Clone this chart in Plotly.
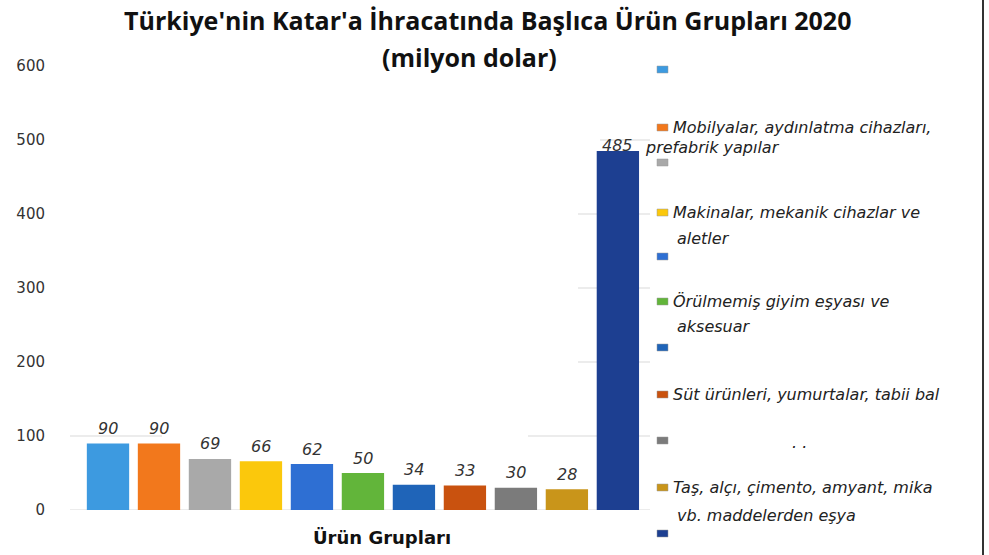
import plotly.graph_objects as go

# ---- data ----
categories = ["Ürün 1", "Ürün 2", "Ürün 3", "Ürün 4", "Ürün 5", "Ürün 6",
              "Ürün 7", "Ürün 8", "Ürün 9", "Ürün 10", "Ürün 11"]
values = [90, 90, 69, 66, 62, 50, 34, 33, 30, 28, 485]
colors = ["#3d9ae0", "#f2781c", "#a9a9a9", "#fbc80c", "#2e6fd3", "#62b53a",
          "#1f64b8", "#c9520f", "#7b7b7b", "#c9951a", "#1d3f91"]
legend_line1 = ["", "Mobilyalar, aydınlatma cihazları,", "", "Makinalar, mekanik cihazlar ve",
                "", "Örülmemiş giyim eşyası ve", "", "Süt ürünleri, yumurtalar, tabii bal",
                ". .", "Taş, alçı, çimento, amyant, mika", ""]
legend_line2 = ["", "prefabrik yapılar", "", "aletler", "", "aksesuar", "", "", "",
                "vb. maddelerden eşya", ""]
y_ticks = [0, 100, 200, 300, 400, 500, 600]
title_line1 = "Türkiye'nin Katar'a İhracatında Başlıca Ürün Grupları 2020"
title_line2 = "(milyon dolar)"
x_title = "Ürün Grupları"

# ---- layout geometry (pixels) ----
W, H = 989, 555
L, R, T, B = 70, 339, 66, 45
PW, PH = W - L - R, H - T - B


def px(x):
    return (x - L) / PW


def py(y):
    return (H - B - y) / PH


fig = go.Figure()
xs = list(range(len(values)))
for i, (c, v, col) in enumerate(zip(categories, values, colors)):
    fig.add_trace(go.Bar(x=[i], y=[v], name=c, marker=dict(color=col, line=dict(width=0)),
                         width=0.83, showlegend=False))

annotations = []
shapes = []
label_font = dict(family="DejaVu Sans", size=16, color="#333333", style="italic")
for i, v in zip(xs, values):
    annotations.append(dict(x=i, y=v, xref="x", yref="y", text=str(v), showarrow=False,
                            xanchor="center", yanchor="middle",
                            yshift=15 if v < 400 else 6, font=label_font))

# partial gridlines like the reference
grid_segments = {0: [(70, 650)], 100: [(70, 162), (528, 650)], 200: [(578, 650)],
                 300: [(578, 650)], 400: [(578, 650)], 500: [(600, 650)]}
for yv in y_ticks:
    for (a, b) in grid_segments.get(yv, []):
        shapes.append(dict(type="line", xref="paper", yref="y", x0=px(a), x1=px(b), y0=yv, y1=yv,
                           line=dict(color="#d9d9d9", width=1), layer="below"))

# custom legend
marker_y = [69, 127, 162, 212, 256, 301, 347, 394, 440, 487, 533]
line2_pos = {1: (643, 147), 3: (675, 238), 5: (675, 326), 9: (675, 515)}
leg_font = dict(family="DejaVu Sans", size=16, color="#222222", style="italic")
for i, col in enumerate(colors):
    my = marker_y[i]
    shapes.append(dict(type="rect", xref="paper", yref="paper", x0=px(657), x1=px(668),
                       y0=py(my + 4), y1=py(my - 3), fillcolor=col,
                       line=dict(color="#9a9a9a", width=0.5)))
    if legend_line1[i]:
        lx = 790 if legend_line1[i] == ". ." else 671
        ly = my + 2 if legend_line1[i] == ". ." else my
        annotations.append(dict(x=px(lx), y=py(ly), xref="paper", yref="paper",
                                text=legend_line1[i], showarrow=False, xanchor="left",
                                yanchor="middle", font=leg_font))
    if legend_line2[i]:
        x2, y2 = line2_pos[i]
        annotations.append(dict(x=px(x2), y=py(y2), xref="paper", yref="paper",
                                text=legend_line2[i], showarrow=False, xanchor="left",
                                yanchor="middle", font=leg_font))

# titles
title_font = dict(family="Open Sans", size=25, color="#111111", weight="bold")
annotations.append(dict(x=px(487), y=py(20), xref="paper", yref="paper", text=title_line1,
                        showarrow=False, xanchor="center", yanchor="middle", font=title_font))
annotations.append(dict(x=px(469), y=py(57), xref="paper", yref="paper", text=title_line2,
                        showarrow=False, xanchor="center", yanchor="middle", font=title_font))
annotations.append(dict(x=px(382), y=py(537), xref="paper", yref="paper", text=x_title,
                        showarrow=False, xanchor="center", yanchor="middle",
                        font=dict(family="DejaVu Sans", size=18, color="#111111", weight="bold")))

# right border
shapes.append(dict(type="line", xref="paper", yref="paper", x0=px(983), x1=px(983),
                   y0=py(0), y1=py(555), line=dict(color="#333333", width=2)))

fig.update_layout(
    width=W, height=H, margin=dict(l=L, r=R, t=T, b=B),
    paper_bgcolor="white", plot_bgcolor="white",
    bargap=0.17,
    xaxis=dict(range=[-0.745, 10.63], showticklabels=False, showgrid=False, zeroline=False,
               showline=False, ticks=""),
    yaxis=dict(range=[0, 600], tickvals=y_ticks, showgrid=False, zeroline=False, showline=False,
               ticks="", ticklabelstandoff=24,
               tickfont=dict(family="DejaVu Sans", size=15, color="#333333")),
    annotations=annotations, shapes=shapes, showlegend=False,
)

fig.write_html("out.html", config={"displayModeBar": False},
               post_script="document.body.style.margin='0';")
